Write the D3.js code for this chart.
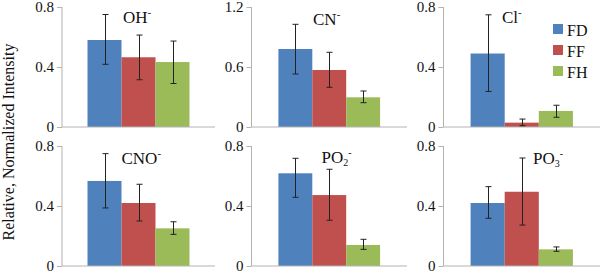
<!DOCTYPE html>
<html>
<head>
<meta charset="utf-8">
<script src="https://cdn.jsdelivr.net/npm/d3@7"></script>
<style>
  body { margin: 0; background: #fff; }
  text { font-family: "Liberation Serif", "Times New Roman", serif; }
</style>
</head>
<body>
<div id="vis"></div>
<script>
const width = 600
const height = 274

// ions shown in each panel (row by row)
const ions = ["OH", "CN", "Cl", "CNO", "PO", "PO"]
const ionSub = ["", "", "", "", "2", "3"]
const yMax = [0.8, 1.2, 0.8, 0.8, 0.8, 0.8]

const series = ["FD", "FF", "FH"]
const colours = ["#4f81bd", "#c0504d", "#9bbb59"]

const fd = [0.58, 0.78, 0.49, 0.567, 0.618, 0.42]
const ff = [0.465, 0.57, 0.029, 0.42, 0.473, 0.495]
const fh = [0.433, 0.297, 0.107, 0.251, 0.14, 0.111]

// error bars, up and down from the bar top
const fdUp = [0.17, 0.247, 0.258, 0.182, 0.1, 0.109]
const fdDown = [0.162, 0.25, 0.253, 0.18, 0.16, 0.102]
const ffUp = [0.148, 0.177, 0.024, 0.125, 0.172, 0.225]
const ffDown = [0.15, 0.173, 0.02, 0.12, 0.168, 0.222]
const fhUp = [0.14, 0.063, 0.038, 0.044, 0.038, 0.016]
const fhDown = [0.143, 0.054, 0.042, 0.04, 0.029, 0.013]

const values = [fd, ff, fh]
const ups = [fdUp, ffUp, fhUp]
const downs = [fdDown, ffDown, fhDown]

// panel geometry
const colLeft = [62, 251.5, 443.5]
const colRight = [215, 407, 600]
const rowTop = [7, 146]
const rowBottom = [127, 266]
const titleX = [123, 313, 502, 121.5, 321.5, 533]
const titleY = [23, 24.5, 23, 163.5, 162.5, 163.5]

const svg = d3.select("#vis")
    .append("svg")
    .attr("width", width)
    .attr("height", height)

svg.append("text")
    .attr("transform", `translate(14, 142) rotate(-90)`)
    .attr("text-anchor", "middle")
    .attr("font-size", 16)
    .attr("fill", "#111")
    .text("Relative, Normalized Intensity")

ions.forEach((ion, i) => {
    const col = i % 3
    const row = Math.floor(i / 3)
    const x0 = colLeft[col]
    const x1 = colRight[col]

    const yScale = d3.scaleLinear([0, yMax[i]], [rowBottom[row], rowTop[row]])
    const group = d3.scaleBand([ion], [x0, x1]).paddingInner(0).paddingOuter(0)
    const bandW = group.bandwidth()
    const groupW = bandW * 2 / 3 * (col === 0 ? 1 : 153 / 156)
    const xScale = d3.scaleBand(series, [x0 + (bandW - groupW) / 2, x0 + (bandW + groupW) / 2])

    const panel = svg.append("g")

    // bars
    panel.selectAll("rect.bar")
        .data(series)
        .join("rect")
            .attr("class", "bar")
            .attr("x", d => xScale(d))
            .attr("width", xScale.bandwidth())
            .attr("y", (d, s) => yScale(values[s][i]))
            .attr("height", (d, s) => yScale(0) - yScale(values[s][i]))
            .attr("fill", (d, s) => colours[s])

    // axes
    const axisL = d3.axisLeft(yScale)
        .tickValues([0, yMax[i] / 2, yMax[i]])
        .tickFormat(d3.format("~g"))
        .tickSize(5)
        .tickPadding(3)

    const yAxis = panel.append("g")
        .attr("transform", `translate(${x0}, 0)`)
        .call(axisL)
    yAxis.select(".domain").remove()
    yAxis.append("line")
        .attr("y1", yScale(0))
        .attr("y2", yScale(yMax[i]))
        .attr("stroke", "#b3b3b3")
    yAxis.selectAll(".tick line").attr("stroke", "#b3b3b3")
    yAxis.selectAll(".tick text")
        .attr("font-size", 15)
        .attr("font-family", "Liberation Serif, serif")
        .attr("fill", "#111")

    panel.append("line")
        .attr("x1", x0)
        .attr("x2", x1)
        .attr("y1", yScale(0))
        .attr("y2", yScale(0))
        .attr("stroke", "#b3b3b3")

    // error bars
    const err = panel.selectAll("g.err")
        .data(series)
        .join("g")
            .attr("class", "err")
            .attr("stroke", "#222")
            .attr("stroke-width", 1)
    const cx = d => Math.round(xScale(d) + xScale.bandwidth() / 2) + 0.5
    err.append("line")
        .attr("x1", cx).attr("x2", cx)
        .attr("y1", (d, s) => yScale(values[s][i] + ups[s][i]))
        .attr("y2", (d, s) => yScale(values[s][i] - downs[s][i]))
    err.append("line")
        .attr("x1", d => cx(d) - 3).attr("x2", d => cx(d) + 3)
        .attr("y1", (d, s) => yScale(values[s][i] + ups[s][i]))
        .attr("y2", (d, s) => yScale(values[s][i] + ups[s][i]))
    err.append("line")
        .attr("x1", d => cx(d) - 3).attr("x2", d => cx(d) + 3)
        .attr("y1", (d, s) => yScale(values[s][i] - downs[s][i]))
        .attr("y2", (d, s) => yScale(values[s][i] - downs[s][i]))

    // title with sub/superscript
    const title = panel.append("text")
        .attr("x", titleX[i])
        .attr("y", titleY[i])
        .attr("font-size", 17)
        .attr("fill", "#111")
        .text(ion)
    if (ionSub[i]) {
        title.append("tspan")
            .attr("font-size", 10)
            .attr("dy", 3)
            .text(ionSub[i])
        title.append("tspan")
            .attr("font-size", 10)
            .attr("dy", -10)
            .text("-")
    } else {
        title.append("tspan")
            .attr("font-size", 11)
            .attr("dy", -7)
            .text("-")
    }
})

// legend
const legend = svg.append("g")
legend.selectAll("rect")
    .data(series)
    .join("rect")
        .attr("x", 553)
        .attr("y", (d, i) => 24 + i * 21)
        .attr("width", 10)
        .attr("height", 10)
        .attr("fill", (d, i) => colours[i])
legend.selectAll("text")
    .data(series)
    .join("text")
        .attr("x", 567)
        .attr("y", (d, i) => 35.5 + i * 21)
        .attr("font-size", 16)
        .attr("fill", "#111")
        .text(d => d)
</script>
</body>
</html>
